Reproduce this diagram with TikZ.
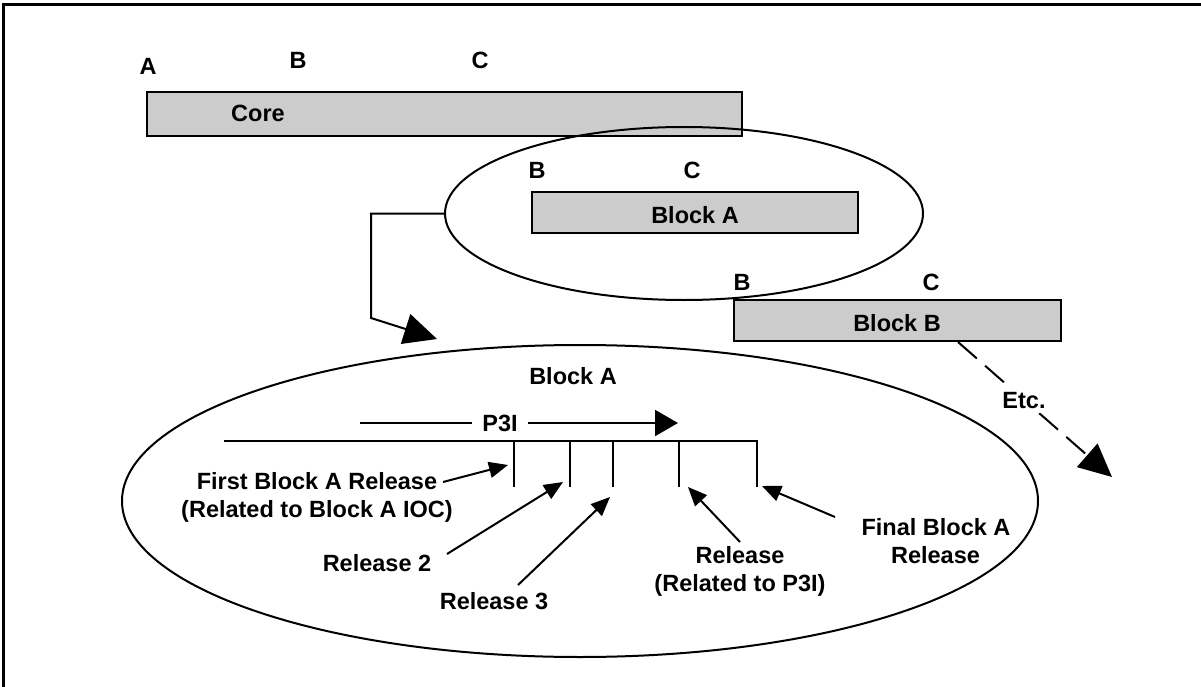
\documentclass[tikz,border=0pt]{standalone}
\usepackage{fontspec}
\setmainfont{Liberation Sans}
\usetikzlibrary{arrows.meta,shapes.geometric}
\definecolor{boxgray}{RGB}{204,204,204}
\begin{document}
\begin{tikzpicture}[x=1pt,y=-1pt,
  lbl/.style={font=\fontsize{23.5}{28}\selectfont\bfseries, inner sep=0pt, anchor=base},
  bar/.style={draw=black, fill=boxgray, line width=2pt, inner sep=0pt, rectangle},
  oval/.style={draw=black, line width=2pt, ellipse, inner sep=0pt},
  ln/.style={line width=2pt},
  bigarrow/.style={ln, -{Triangle[length=33pt,width=31pt]}},
  midarrow/.style={ln, -{Triangle[length=23pt,width=26pt]}},
  smallarrow/.style={ln, -{Triangle[length=19pt,width=16pt]}}]
\useasboundingbox (0,0) rectangle (1201,687);
% frame
\draw[line width=2.5pt] (3.5,687) -- (3.5,4.5) -- (1201,4.5);

% Core
\node[bar, minimum width=595pt, minimum height=44pt] (core) at (444.5,114) {};
\node[lbl] (coretxt) at (258,122) {Core};
\node[lbl] (cA) at (148,74.5) {A};
\node[lbl] (cB) at (298,68.5) {B};
\node[lbl] (cC) at (480,68.5) {C};

% small ellipse with Block A
\node[oval, minimum width=478pt, minimum height=173pt] (ellA) at (684,213.5) {};
\node[bar, minimum width=326pt, minimum height=41pt] (blockA) at (695,212.5) {};
\node[lbl] (blockAtxt) at (695,223.5) {Block A};
\node[lbl] (aB) at (537,178.5) {B};
\node[lbl] (aC) at (692,178.5) {C};

% Block B
\node[bar, minimum width=327pt, minimum height=41pt] (blockB) at (897.5,320.5) {};
\node[lbl] (blockBtxt) at (897,331.5) {Block B};
\node[lbl] (bB) at (742,290.5) {B};
\node[lbl] (bC) at (931,290.5) {C};

% Etc. dashed arrow
\coordinate (etc0) at (958,342);
\coordinate (etc1) at (1112,477);
\draw[bigarrow, dash pattern=on 25pt off 11pt] (etc0) -- (etc1);
\node[lbl, anchor=center, fill=white, inner sep=4pt] (etc) at (1024,401) {Etc.};

% connector from small ellipse to big ellipse
\coordinate (bend) at (371,318);
\coordinate (tipc) at (437,339);
\draw[bigarrow] (ellA.west) -| (bend) -- (tipc);

% big ellipse
\node[oval, minimum width=916pt, minimum height=312pt] (ellBig) at (580,501) {};
\node[lbl] (bigtitle) at (573,384.5) {Block A};

% P3I arrow
\node[lbl, anchor=center, inner xsep=10pt] (p3i) at (500,423) {P3I};
\coordinate (p3l) at (360,423);
\coordinate (p3r) at (678,423);
\draw[ln] (p3l) -- (p3i.west);
\draw[midarrow] (p3i.east) -- (p3r);

% timeline
\coordinate (tl0) at (224,441);
\coordinate (t1) at (514,487);
\coordinate (t2) at (570,487);
\coordinate (t3) at (613,487);
\coordinate (t4) at (679,487);
\coordinate (t5) at (757,487);
\draw[ln] (tl0) -- (757,441) -- (t5);
\draw[ln] (514,441) -- (t1);
\draw[ln] (570,441) -- (t2);
\draw[ln] (613,441) -- (t3);
\draw[ln] (679,441) -- (t4);

% labels
\node[lbl] (first1) at (317,489.5) {First Block A Release};
\node[lbl] (first2) at (317,517.5) {(Related to Block A IOC)};
\node[lbl] (rel2) at (377,571.5) {Release 2};
\node[lbl] (rel3) at (494,609.5) {Release 3};
\node[lbl] (relp1) at (740,563.5) {Release};
\node[lbl] (relp2) at (740,591.5) {(Related to P3I)};
\node[lbl] (fin1) at (936,535.5) {Final Block A};
\node[lbl] (fin2) at (935.5,563.5) {Release};

% label arrows
\coordinate (a1s) at (443,482);  \coordinate (a1e) at (508,465);
\coordinate (a2s) at (447,554);  \coordinate (a2e) at (563,482);
\coordinate (a3s) at (518,585);  \coordinate (a3e) at (610,497);
\coordinate (a4s) at (740,542);  \coordinate (a4e) at (688,487);
\coordinate (a5s) at (835,517);  \coordinate (a5e) at (762,486);
\draw[smallarrow] (a1s) -- (a1e);
\draw[smallarrow] (a2s) -- (a2e);
\draw[smallarrow] (a3s) -- (a3e);
\draw[smallarrow] (a4s) -- (a4e);
\draw[smallarrow] (a5s) -- (a5e);
\end{tikzpicture}
\end{document}
